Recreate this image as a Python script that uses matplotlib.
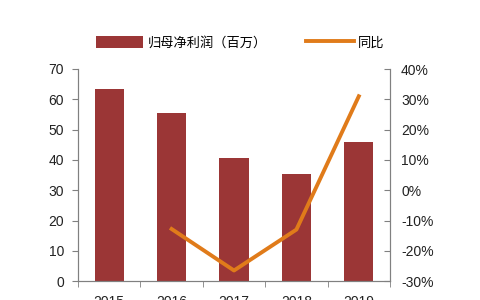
import numpy as np
import matplotlib
matplotlib.use("Agg")
import matplotlib.pyplot as plt
from matplotlib.ticker import FuncFormatter, FixedLocator

plt.rcParams['font.family'] = ['Noto Sans CJK SC', 'DejaVu Sans']

years = ['2015', '2016', '2017', '2018', '2019']
profit = [63.5, 55.5, 40.5, 35.5, 46.0]
growth_years = ['2016', '2017', '2018', '2019']
growth = [-12.8, -26.5, -13.0, 31.0]

bar_color = '#9B3636'
line_color = '#E07B1A'

fig = plt.figure(figsize=(4.8, 3.0), dpi=100)
ax = fig.add_axes([0.1625, 0.063, 0.65, 0.707])
ax2 = ax.twinx()

x = np.arange(len(years))
bars = ax.bar(x, profit, width=0.47, color=bar_color, label='归母净利润（百万）')
gx = [years.index(y) for y in growth_years]
line, = ax2.plot(gx, growth, color=line_color, lw=2.8, label='同比')

ax.set_xlim(-0.5, len(years) - 0.5)
ax.set_ylim(0, 70)
ax.set_yticks(range(0, 71, 10))
ax2.set_ylim(-30, 40)
ax2.set_yticks(range(-30, 41, 10))
ax2.yaxis.set_major_formatter(FuncFormatter(lambda v, p: f'{int(v)}%'))

ax.set_xticks(x)
ax.set_xticklabels(years)
# boundary ticks between categories
ax.xaxis.set_minor_locator(FixedLocator(np.arange(-0.5, len(years), 1.0)))
for a in (ax, ax2):
    a.spines['top'].set_visible(False)
    for s in a.spines.values():
        s.set_color('#808080')
        s.set_linewidth(0.8)
ax.tick_params(axis='x', which='major', length=0, labelsize=10, colors='#222222', pad=10)
ax.tick_params(axis='x', which='minor', direction='out', length=4, color='#808080')
ax.tick_params(axis='y', direction='out', length=4, color='#808080', labelsize=10, labelcolor='#222222', pad=6)
ax2.tick_params(axis='y', direction='in', length=4, color='#808080', labelsize=10, labelcolor='#222222', pad=8)
for lbl in ax.get_xticklabels() + ax.get_yticklabels() + ax2.get_yticklabels():
    lbl.set_family(['Liberation Sans', 'DejaVu Sans'])

fig.legend(handles=[bars, line], loc='center', bbox_to_anchor=(0.5, 0.857), ncol=2,
           frameon=False, fontsize=9.5, handlelength=3.6, handleheight=1.0,
           columnspacing=3.0, handletextpad=0.3)

fig.savefig('out.png', dpi=100)
